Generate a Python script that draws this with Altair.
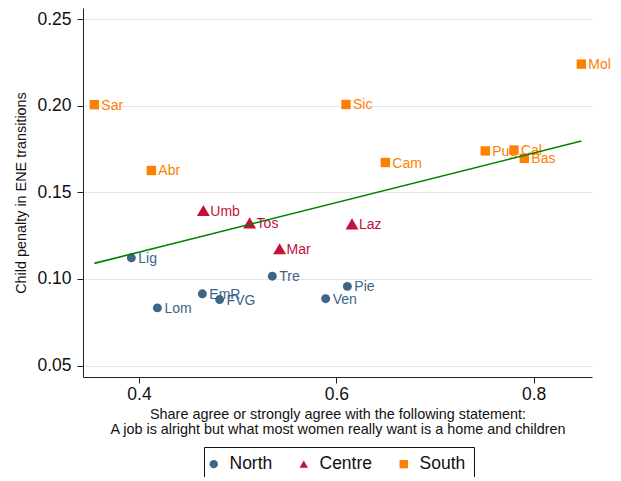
import altair as alt
import pandas as pd

# regions, macro area, x = share agreeing, y = child penalty
regions = ["Lig", "Lom", "EmR", "FVG", "Tre", "Ven", "Pie",
           "Umb", "Tos", "Mar", "Laz",
           "Sar", "Abr", "Sic", "Cam", "Pug", "Cal", "Bas", "Mol"]
areas = ["North", "North", "North", "North", "North", "North", "North",
         "Centre", "Centre", "Centre", "Centre",
         "South", "South", "South", "South", "South", "South", "South", "South"]
share = [0.3922, 0.4186, 0.4642, 0.4817, 0.5351, 0.5892, 0.6112,
         0.4652, 0.5121, 0.5425, 0.6159,
         0.3547, 0.4125, 0.6098, 0.6497, 0.7510, 0.7801, 0.7906, 0.8484]
penalty = [0.1122, 0.0833, 0.0914, 0.0881, 0.1016, 0.0886, 0.0957,
           0.1395, 0.1324, 0.1174, 0.1318,
           0.2006, 0.1626, 0.2007, 0.1672, 0.1739, 0.1744, 0.1696, 0.2240]

area_order = ["North", "Centre", "South"]
area_colors = ["#3d6586", "#c3103c", "#ff8000"]
area_shapes = ["circle", "triangle-up", "square"]
marker_sizes = [80, 165, 88]

df = pd.DataFrame({"region": regions, "area": areas,
                   "share": share, "penalty": penalty})

FONT = "Liberation Sans"

x_enc = alt.X("share:Q",
              scale=alt.Scale(domain=[0.3432, 0.8592], nice=False, zero=False),
              axis=alt.Axis(values=[0.4, 0.6, 0.8], format=".1f", grid=False,
                            labelFontSize=17.5, tickSize=6, labelPadding=2,
                            titleFontSize=14.4, titleFontWeight="normal",
                            titlePadding=5, titleLineHeight=15),
              title=["Share agree or strongly agree with the following statement:",
                     "A job is alright but what most women really want is a home and children"])
y_enc = alt.Y("penalty:Q",
              scale=alt.Scale(domain=[0.0434, 0.2564], nice=False, zero=False),
              axis=alt.Axis(values=[0.05, 0.10, 0.15, 0.20, 0.25], format=".2f",
                            grid=True, gridColor="#e6e6e6", gridWidth=1,
                            labelFontSize=17.5, tickSize=6, labelPadding=6,
                            titleFontSize=14.4, titleFontWeight="normal",
                            titlePadding=8),
              title="Child penalty in ENE transitions")
color_scale = alt.Scale(domain=area_order, range=area_colors)
shape_scale = alt.Scale(domain=area_order, range=area_shapes)
legend = alt.Legend(orient="none", legendX=121, legendY=439,
                    direction="horizontal", title=None)

base = alt.Chart(df)

labels = base.mark_text(align="left", baseline="middle", dx=7, dy=1,
                        fontSize=14, font=FONT).encode(
    x=x_enc, y=y_enc, text="region:N",
    color=alt.Color("area:N", scale=color_scale, title=None, legend=legend))

# one marker layer per area so each shape gets its own size
marker_layers = []
for name, size in zip(area_order, marker_sizes):
    marker_layers.append(
        base.mark_point(filled=True, opacity=1, size=size)
        .transform_filter(alt.datum.area == name)
        .encode(
            x=x_enc, y=y_enc,
            color=alt.Color("area:N", scale=color_scale, title=None, legend=legend),
            shape=alt.Shape("area:N", scale=shape_scale, title=None, legend=legend),
        )
    )

fit = base.mark_line(color="#008000", strokeWidth=1.6).transform_regression(
    "share", "penalty").encode(x="share:Q", y="penalty:Q")

chart = alt.layer(labels, *marker_layers, fit).properties(
    width=509, height=369,
    autosize=alt.AutoSizeParams(type="none"),
    padding={"left": 75, "top": 0, "right": 21, "bottom": 100}
).configure_view(stroke=None).configure_axis(
    domainColor="#222", tickColor="#222", labelColor="#111", titleColor="#111",
    labelFont=FONT, titleFont=FONT
).configure_legend(
    strokeColor="#111", fillColor="white", padding=8, labelFont=FONT,
    labelFontSize=17.5, labelColor="#111", symbolSize=70, symbolOpacity=1,
    labelOffset=7, columnPadding=26, symbolStrokeWidth=0, symbolOffset=-7
)

chart.save("out.html", embed_options={"renderer": "svg", "actions": False})
